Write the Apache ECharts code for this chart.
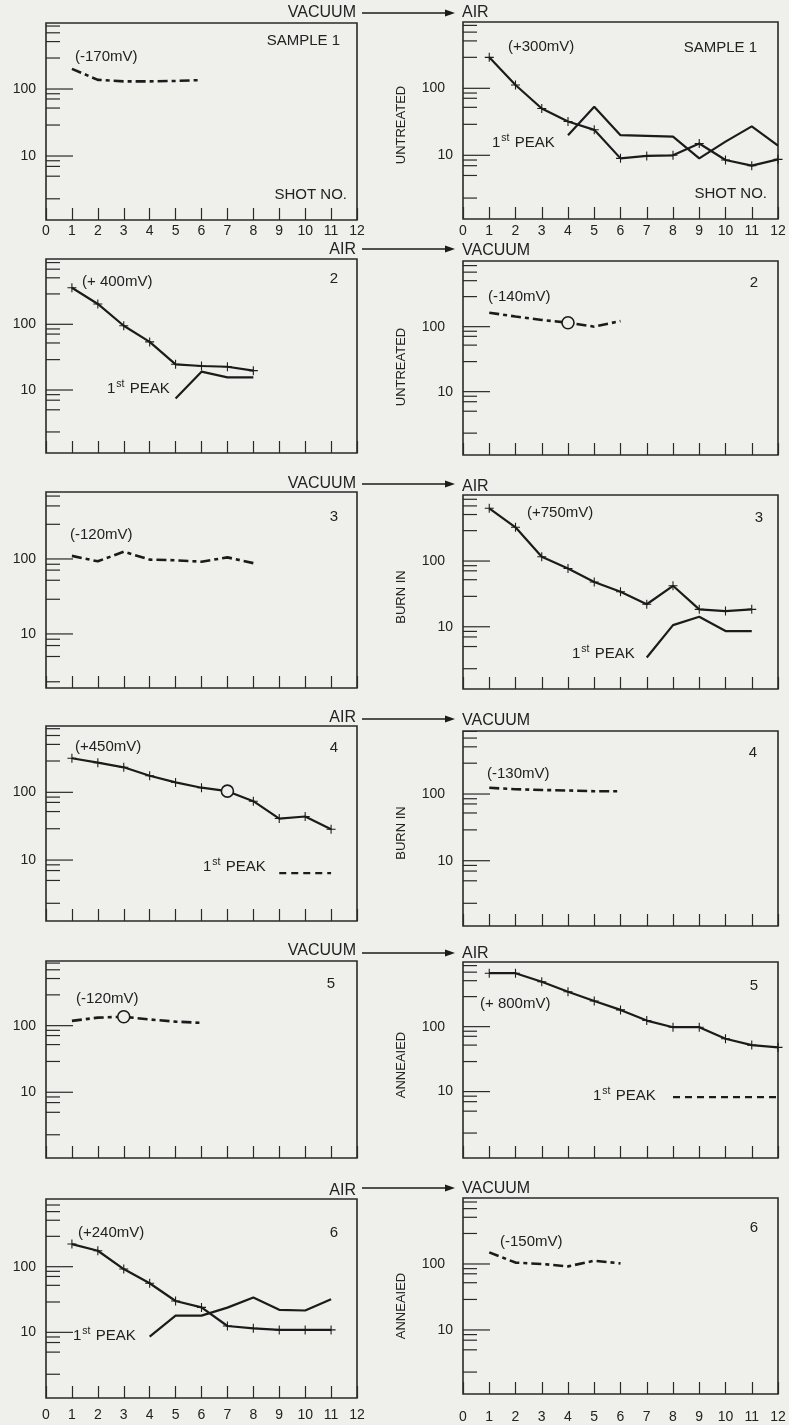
<!DOCTYPE html>
<html>
<head>
<meta charset="utf-8">
<script src="https://cdn.jsdelivr.net/npm/echarts@6/dist/echarts.min.js"></script>
<style>
  html, body { margin: 0; padding: 0; background: #efefec; }
  #chart { width: 789px; height: 1425px; }
</style>
</head>
<body>
<div id="chart"></div>
<script>
// ---- axis ticks ----
const shotTicks = [0, 1, 2, 3, 4, 5, 6, 7, 8, 9, 10, 11, 12];
const yMajorTicks = [10, 100];
const yMinorTicks = [2.3, 5, 7, 8.5, 29, 52, 71, 85, 290, 510, 690, 870];

// ---- sample 1 ----
const s1VacShots = [1, 2, 3, 4, 5, 6];
const s1Vac = [200, 137, 130, 130, 132, 136];
const s1AirShots = [1, 2, 3, 4, 5, 6, 7, 8, 9, 10, 11, 12];
const s1Air = [290, 112, 50, 32, 24, 9, 9.8, 10, 15, 8.5, 7, 8.7];
const s1PeakShots = [4, 5, 6, 7, 8, 9, 10, 11, 12];
const s1Peak = [20, 53, 20, 19.5, 19, 9, 16, 27, 14];

// ---- sample 2 ----
const s2AirShots = [1, 2, 3, 4, 5, 6, 7, 8];
const s2Air = [360, 204, 95, 54, 24.6, 23.2, 22.6, 19.7];
const s2PeakShots = [5, 6, 7, 8];
const s2Peak = [7.4, 19, 15.6, 15.6];
const s2VacShots = [1, 2, 3, 4, 5, 6];
const s2Vac = [164, 143, 127, 115, 100, 122];
const s2VacCircle = 4;

// ---- sample 3 ----
const s3VacShots = [1, 2, 3, 4, 5, 6, 7, 8];
const s3Vac = [110, 93, 125, 98, 96, 92, 105, 88];
const s3AirShots = [1, 2, 3, 4, 5, 6, 7, 8, 9, 10, 11];
const s3Air = [634, 326, 116, 77, 48, 34, 22, 42, 18.4, 17.3, 18.4];
const s3PeakShots = [7, 8, 9, 10, 11];
const s3Peak = [3.4, 10.6, 14.2, 8.6, 8.6];

// ---- sample 4 ----
const s4AirShots = [1, 2, 3, 4, 5, 6, 7, 8, 9, 10, 11];
const s4Air = [318, 274, 234, 176, 140, 117, 104, 74, 41, 44, 28.5];
const s4AirCircle = 7;
const s4PeakShots = [9, 10, 11];
const s4Peak = [6.4, 6.4, 6.4];
const s4VacShots = [1, 2, 3, 4, 5, 6];
const s4Vac = [124, 118, 115, 113, 110, 110];

// ---- sample 5 ----
const s5VacShots = [1, 2, 3, 4, 5, 6];
const s5Vac = [118, 132, 136, 124, 115, 110];
const s5VacCircle = 3;
const s5AirShots = [1, 2, 3, 4, 5, 6, 7, 8, 9, 10, 11, 12];
const s5Air = [665, 665, 492, 345, 248, 181, 124, 98, 98, 65, 52, 48];
const s5PeakShots = [8, 9, 10, 11, 12];
const s5Peak = [8.2, 8.2, 8.2, 8.2, 8.2];

// ---- sample 6 ----
const s6AirShots = [1, 2, 3, 4, 5, 6, 7, 8, 9, 10, 11];
const s6Air = [221, 175, 92, 56, 30, 24, 12.5, 11.5, 10.9, 10.9, 10.9];
const s6PeakShots = [4, 5, 6, 7, 8, 9, 10, 11];
const s6Peak = [8.6, 18, 18, 23.8, 34, 22, 21.5, 32];
const s6VacShots = [1, 2, 3, 4, 5, 6];
const s6Vac = [150, 105, 100, 92, 112, 102];

// ---- panel layout (pixel boxes and log extents) ----
const panels = [
  { left: 46,  top: 23,   width: 311, height: 197, yMin: 1.11, yMax: 966,  xLabels: true, xMargin: 4 },
  { left: 463, top: 22,   width: 315, height: 197, yMin: 1.12, yMax: 977,  xLabels: true, xMargin: 5 },
  { left: 46,  top: 259,  width: 311, height: 194, yMin: 1.1,  yMax: 986 },
  { left: 463, top: 261,  width: 315, height: 194, yMin: 1.06, yMax: 1024 },
  { left: 46,  top: 492,  width: 311, height: 196, yMin: 1.9,  yMax: 782 },
  { left: 463, top: 495,  width: 315, height: 194, yMin: 1.13, yMax: 1011 },
  { left: 46,  top: 726,  width: 311, height: 195, yMin: 1.26, yMax: 953 },
  { left: 463, top: 731,  width: 315, height: 195, yMin: 1.05, yMax: 881 },
  { left: 46,  top: 961,  width: 311, height: 197, yMin: 1.03, yMax: 935 },
  { left: 463, top: 962,  width: 315, height: 196, yMin: 0.95, yMax: 989 },
  { left: 46,  top: 1199, width: 311, height: 199, yMin: 1.0,  yMax: 1074, xLabels: true, xMargin: 10 },
  { left: 463, top: 1198, width: 315, height: 196, yMin: 1.07, yMax: 1000, xLabels: true, xMargin: 16 }
];

// curves: panel index, shots, values, stroke style, optional hollow-circle shot
const curves = [
  { p: 0,  x: s1VacShots,  y: s1Vac,  kind: 'vac' },
  { p: 1,  x: s1AirShots,  y: s1Air,  kind: 'air' },
  { p: 1,  x: s1PeakShots, y: s1Peak, kind: 'peak' },
  { p: 2,  x: s2AirShots,  y: s2Air,  kind: 'air' },
  { p: 2,  x: s2PeakShots, y: s2Peak, kind: 'peak' },
  { p: 3,  x: s2VacShots,  y: s2Vac,  kind: 'vac', circle: s2VacCircle },
  { p: 4,  x: s3VacShots,  y: s3Vac,  kind: 'vac' },
  { p: 5,  x: s3AirShots,  y: s3Air,  kind: 'air' },
  { p: 5,  x: s3PeakShots, y: s3Peak, kind: 'peak' },
  { p: 6,  x: s4AirShots,  y: s4Air,  kind: 'air', circle: s4AirCircle },
  { p: 6,  x: s4PeakShots, y: s4Peak, kind: 'peakDash' },
  { p: 7,  x: s4VacShots,  y: s4Vac,  kind: 'vac' },
  { p: 8,  x: s5VacShots,  y: s5Vac,  kind: 'vac', circle: s5VacCircle },
  { p: 9,  x: s5AirShots,  y: s5Air,  kind: 'air' },
  { p: 9,  x: s5PeakShots, y: s5Peak, kind: 'peakDash' },
  { p: 10, x: s6AirShots,  y: s6Air,  kind: 'air' },
  { p: 10, x: s6PeakShots, y: s6Peak, kind: 'peak' },
  { p: 11, x: s6VacShots,  y: s6Vac,  kind: 'vac' }
];

const INK = '#1b1b1b';
const BG = '#efefec';
const FONT = '"Liberation Sans", "DejaVu Sans", sans-serif';
const PLUS = 'path://M4.4,0H5.6V4.4H10V5.6H5.6V10H4.4V5.6H0V4.4H4.4Z';

const lineStyles = {
  vac:      { type: [10, 4, 4, 4], width: 2.6 },
  air:      { type: 'solid', width: 2.2 },
  peak:     { type: 'solid', width: 2.2 },
  peakDash: { type: [7, 5], width: 2.2 }
};

const grid = [], xAxis = [], yAxis = [], series = [];

panels.forEach((pn, i) => {
  const rightCol = i % 2 === 1;
  grid.push({
    left: pn.left, top: pn.top, width: pn.width, height: pn.height,
    show: true, borderColor: '#2a2a2a', borderWidth: 1.6, backgroundColor: 'transparent'
  });
  xAxis.push({
    gridIndex: i, type: 'value', min: shotTicks[0], max: shotTicks[shotTicks.length - 1], interval: 1,
    axisLine: { show: false },
    axisTick: { show: true, inside: true, length: 12, lineStyle: { color: '#2a2a2a', width: 1.2 } },
    splitLine: { show: false },
    axisLabel: {
      show: !!pn.xLabels, margin: pn.xMargin || 6, color: '#222',
      fontFamily: FONT, fontSize: 14,
      formatter: v => String(Math.round(v))
    }
  });
  yAxis.push({
    gridIndex: i, type: 'log', logBase: 10, min: pn.yMin, max: pn.yMax,
    axisLine: { show: false }, axisTick: { show: false }, splitLine: { show: false },
    axisLabel: {
      show: true, margin: 10, color: '#222', fontFamily: FONT, fontSize: 14,
      formatter: v => {
        if (Math.abs(v - 10) < 0.01) return '10';
        if (Math.abs(v - 100) < 0.1) return rightCol ? '{w|100}' : '100';
        return '';
      },
      rich: { w: { fontFamily: FONT, fontSize: 14, color: '#222', padding: [0, 8, 0, 0] } }
    }
  });
  // inside tick marks on the logarithmic scale
  const tickData = yMajorTicks.map(v => [0, v, 27]).concat(yMinorTicks.map(v => [0, v, 14]));
  series.push({
    type: 'custom', xAxisIndex: i, yAxisIndex: i, clip: true, silent: true,
    data: tickData,
    renderItem: (params, api) => {
      const pt = api.coord([api.value(0), api.value(1)]);
      return {
        type: 'line',
        shape: { x1: pt[0], y1: pt[1], x2: pt[0] + api.value(2), y2: pt[1] },
        style: { stroke: '#2a2a2a', lineWidth: 1.2 }
      };
    }
  });
});

curves.forEach(c => {
  const withPlus = c.kind === 'air';
  const data = c.x.map((sx, k) => {
    if (c.circle === sx) {
      return {
        value: [sx, c.y[k]], symbol: 'circle', symbolSize: 12,
        itemStyle: { color: BG, borderColor: INK, borderWidth: 1.6 }
      };
    }
    return [sx, c.y[k]];
  });
  series.push({
    type: 'line', xAxisIndex: c.p, yAxisIndex: c.p, data,
    symbol: withPlus ? PLUS : 'none', symbolSize: 9,
    showSymbol: true, itemStyle: { color: INK },
    lineStyle: Object.assign({ color: INK }, lineStyles[c.kind]),
    silent: true, z: 3
  });
});

// ---- text and arrows ----
const g = [];
const txt = (x, y, text, opt = {}) => g.push({
  type: 'text', x, y, rotation: opt.rot || 0, z: 10,
  style: Object.assign({
    text, fill: '#222', font: `${opt.size || 15}px ${FONT}`,
    align: opt.align || 'left', verticalAlign: 'middle'
  }, opt.extra || {})
});
const peakLabel = (x, y) => g.push({
  type: 'text', x, y, z: 10,
  style: {
    text: '{b|1}{s|st}{b| PEAK}', align: 'left', verticalAlign: 'middle', fill: '#222',
    rich: {
      b: { fontFamily: FONT, fontSize: 15, lineHeight: 21, fill: '#222' },
      s: { fontFamily: FONT, fontSize: 10.5, lineHeight: 21, verticalAlign: 'top', fill: '#222', padding: [0, 1, 0, 1] }
    }
  }
});
const arrow = (y, yl, yr, leftWord, rightWord) => {
  txt(356, yl, leftWord, { align: 'right', size: 16 });
  txt(462, yr, rightWord, { size: 16 });
  g.push({ type: 'line', z: 10, shape: { x1: 362, y1: y, x2: 448, y2: y }, style: { stroke: INK, lineWidth: 1.5 } });
  g.push({ type: 'polygon', z: 10, shape: { points: [[445, y - 3.5], [455, y], [445, y + 3.5]] }, style: { fill: INK } });
};

arrow(13, 13, 13, 'VACUUM', 'AIR');
arrow(249, 250, 251, 'AIR', 'VACUUM');
arrow(484, 484, 487, 'VACUUM', 'AIR');
arrow(719, 718, 721, 'AIR', 'VACUUM');
arrow(953, 951, 954, 'VACUUM', 'AIR');
arrow(1188, 1191, 1189, 'AIR', 'VACUUM');

// treatment labels between the columns
[[125, 'UNTREATED'], [367, 'UNTREATED'], [597, 'BURN IN'], [833, 'BURN IN'], [1065, 'ANNEAIED'], [1306, 'ANNEAIED']]
  .forEach(([y, t]) => txt(401, y, t, { rot: Math.PI / 2, align: 'center', size: 13 }));

// sample numbers
txt(340, 41, 'SAMPLE 1', { align: 'right' });
txt(757, 48, 'SAMPLE 1', { align: 'right' });
txt(338, 279, '2', { align: 'right' });
txt(758, 283, '2', { align: 'right' });
txt(338, 517, '3', { align: 'right' });
txt(763, 518, '3', { align: 'right' });
txt(338, 748, '4', { align: 'right' });
txt(757, 753, '4', { align: 'right' });
txt(335, 984, '5', { align: 'right' });
txt(758, 986, '5', { align: 'right' });
txt(338, 1233, '6', { align: 'right' });
txt(758, 1228, '6', { align: 'right' });

txt(347, 195, 'SHOT NO.', { align: 'right' });
txt(767, 194, 'SHOT NO.', { align: 'right' });

// bias voltages
txt(75, 57, '(-170mV)');
txt(508, 47, '(+300mV)');
txt(82, 282, '(+ 400mV)');
txt(488, 297, '(-140mV)');
txt(70, 535, '(-120mV)');
txt(527, 513, '(+750mV)');
txt(75, 747, '(+450mV)');
txt(487, 774, '(-130mV)');
txt(76, 999, '(-120mV)');
txt(480, 1004, '(+ 800mV)');
txt(78, 1233, '(+240mV)');
txt(500, 1242, '(-150mV)');

// first-peak captions
peakLabel(492, 143);
peakLabel(107, 389);
peakLabel(572, 654);
peakLabel(203, 867);
peakLabel(593, 1096);
peakLabel(73, 1336);

const chart = echarts.init(document.getElementById('chart'), null, { renderer: 'canvas' });
chart.setOption({
  backgroundColor: BG,
  animation: false,
  grid, xAxis, yAxis, series,
  graphic: { elements: g }
});
</script>
</body>
</html>
